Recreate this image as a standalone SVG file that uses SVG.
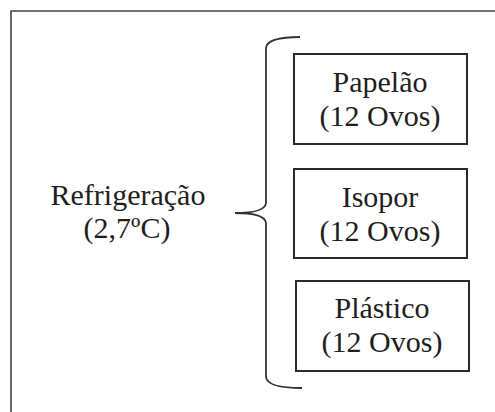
<svg xmlns="http://www.w3.org/2000/svg" width="495" height="412" viewBox="0 0 495 412">
<defs>
<style>
.b{fill:#fff;stroke:#2a2a2a;stroke-width:2}
.l{fill:none;stroke:#333;stroke-width:1.8}
</style>
</defs>
<rect width="495" height="412" fill="#fff"/>
<path d="M11 412 V11 H495" fill="none" stroke="#444" stroke-width="1.6"/>
<g id="root">
<text x="128" y="205" font-family="Times New Roman" font-size="30" fill="#1e1e1e" text-anchor="middle">Refrigeração</text>
<text x="127" y="238" font-family="Times New Roman" font-size="30" fill="#1e1e1e" text-anchor="middle">(2,7ºC)</text>
</g>
<g id="connectors">
<path class="l" d="M300 37 Q267 37 266 48 L266 203 Q265 213 235 213 Q265 213 266 223 L266 377 Q267 388 302 388"/>
</g>
<g id="papelao">
<rect class="b" x="294" y="54" width="173" height="90"/>
<text x="380" y="92" font-family="Times New Roman" font-size="30" fill="#1e1e1e" text-anchor="middle">Papelão</text>
<text x="380" y="126" font-family="Times New Roman" font-size="30" fill="#1e1e1e" text-anchor="middle">(12 Ovos)</text>
</g>
<g id="isopor">
<rect class="b" x="294" y="169" width="173" height="89"/>
<text x="380" y="207" font-family="Times New Roman" font-size="30" fill="#1e1e1e" text-anchor="middle">Isopor</text>
<text x="380" y="241" font-family="Times New Roman" font-size="30" fill="#1e1e1e" text-anchor="middle">(12 Ovos)</text>
</g>
<g id="plastico">
<rect class="b" x="296" y="281" width="173" height="90"/>
<text x="382" y="318" font-family="Times New Roman" font-size="30" fill="#1e1e1e" text-anchor="middle">Plástico</text>
<text x="382" y="352" font-family="Times New Roman" font-size="30" fill="#1e1e1e" text-anchor="middle">(12 Ovos)</text>
</g>
</svg>
